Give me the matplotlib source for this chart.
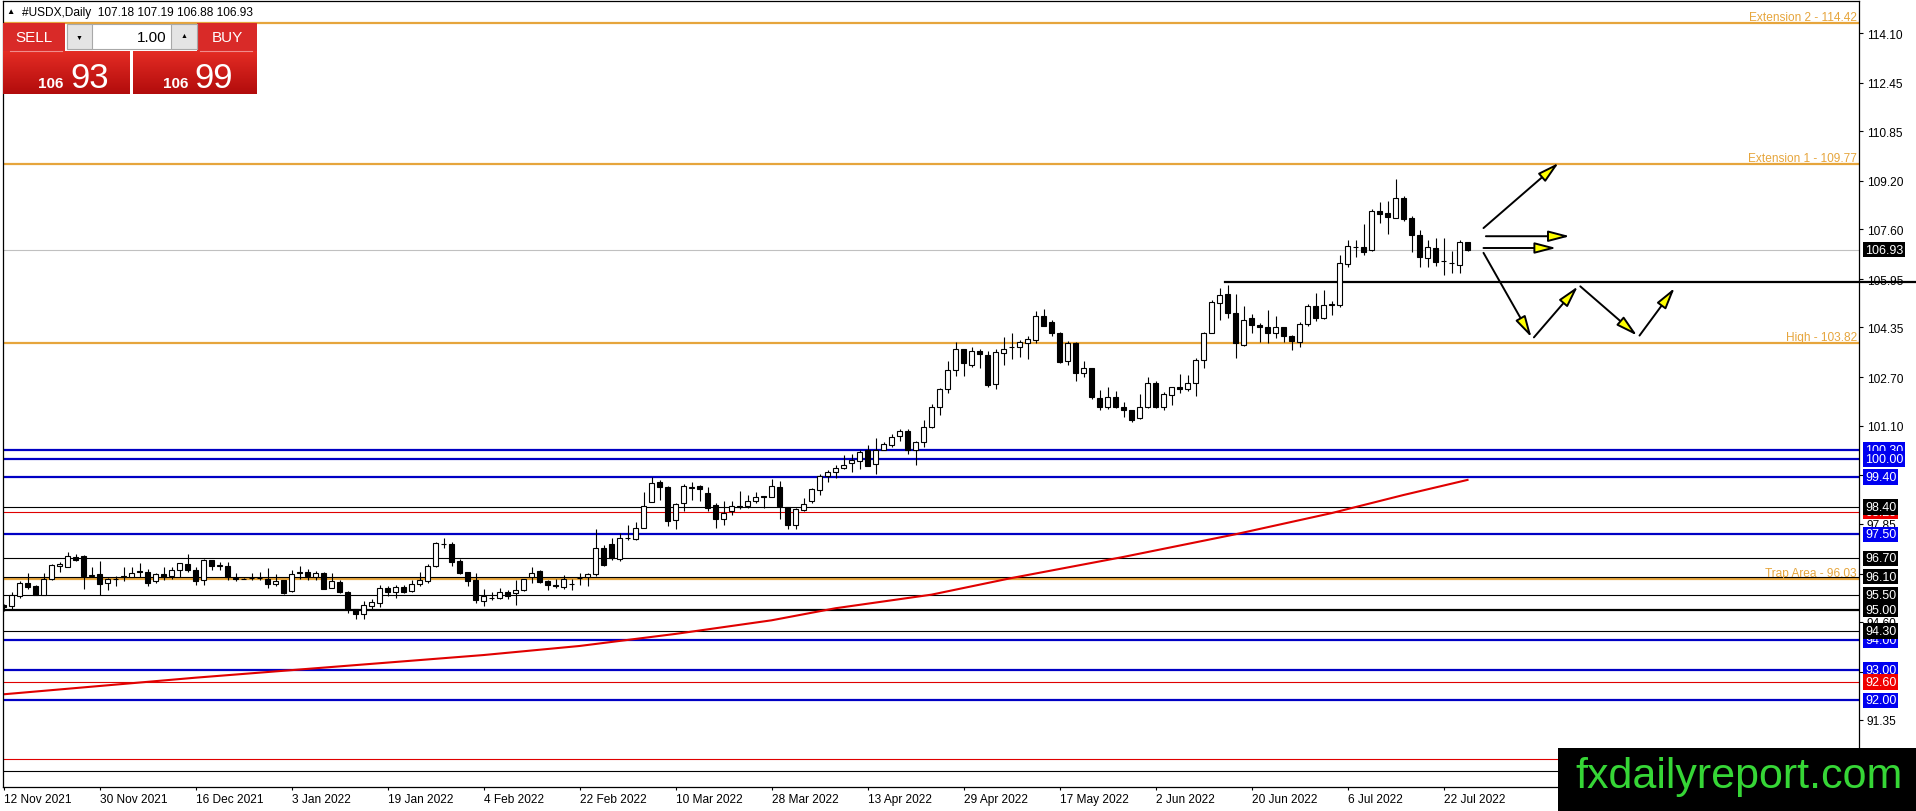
import matplotlib
matplotlib.use('Agg')
import matplotlib.pyplot as plt
import matplotlib.colors as mcolors
from matplotlib.patches import Rectangle
import numpy as np

plt.rcParams['font.family'] = ['Liberation Sans', 'DejaVu Sans']

# daily USDX candles, 12 Nov 2021 .. 27 Jul 2022
opens = [95.15, 95.12, 95.45, 95.90, 95.79, 95.50, 96.01, 96.45, 96.43, 96.75,
         96.78, 96.12, 96.19, 95.88, 96.02, 96.10, 96.10, 96.27, 96.26, 95.96,
         96.18, 96.12, 96.32, 96.50, 96.30, 95.97, 96.65, 96.45, 96.45, 96.05,
         96.03, 96.04, 96.05, 96.02, 95.86, 95.97, 95.61, 96.22, 96.24, 96.10,
         96.21, 95.72, 95.91, 95.60, 95.01, 94.85, 95.12, 95.23, 95.72, 95.59,
         95.75, 95.61, 95.86, 95.96, 96.45, 97.18, 97.19, 96.61, 96.24, 95.99,
         95.28, 95.40, 95.39, 95.60, 95.55, 95.64, 96.10, 96.27, 95.95, 95.81,
         95.75, 95.85, 96.05, 96.08, 96.18, 97.03, 97.18, 96.68, 97.38, 97.35,
         97.71, 98.56, 99.23, 99.08, 97.96, 98.53, 99.03, 99.11, 98.86, 98.48,
         97.99, 98.26, 98.45, 98.42, 98.59, 98.76, 98.75, 99.08, 98.39, 97.82,
         98.31, 98.61, 98.97, 99.43, 99.57, 99.70, 99.87, 99.92, 100.28, 99.82,
         100.30, 100.46, 100.77, 100.93, 100.28, 100.56, 101.05, 101.71, 102.30, 102.94,
         103.62, 103.11, 103.57, 103.44, 102.47, 103.51, 103.69, 103.69, 103.84, 103.93,
         104.72, 104.54, 104.17, 103.25, 103.85, 102.83, 102.99, 102.00, 101.73, 102.06,
         101.71, 101.60, 101.34, 101.73, 102.50, 101.73, 102.11, 102.37, 102.30, 102.50,
         103.27, 104.15, 105.15, 105.46, 104.82, 103.76, 104.65, 104.43, 104.37, 104.15,
         104.37, 104.06, 103.87, 104.46, 105.06, 104.65, 105.10, 105.10, 106.45, 107.00,
         107.02, 106.90, 108.19, 108.13, 107.99, 108.62, 107.99, 107.41, 106.65, 106.99,
         106.55, 106.49, 106.43, 107.18]
highs = [95.20, 95.59, 95.94, 96.21, 95.83, 96.21, 96.50, 96.59, 96.90, 96.84,
         96.80, 96.43, 96.61, 96.05, 96.13, 96.43, 96.43, 96.54, 96.34, 96.23,
         96.43, 96.43, 96.56, 96.86, 96.43, 96.67, 96.66, 96.59, 96.57, 96.23,
         96.05, 96.21, 96.24, 96.39, 96.19, 95.99, 96.32, 96.45, 96.34, 96.27,
         96.26, 96.21, 95.99, 95.62, 95.02, 95.28, 95.34, 95.83, 95.77, 95.83,
         95.81, 95.99, 96.26, 96.50, 97.26, 97.39, 97.26, 96.67, 96.26, 96.21,
         95.69, 95.59, 95.72, 95.66, 95.99, 96.03, 96.41, 96.30, 95.99, 96.02,
         96.15, 96.02, 96.21, 96.23, 97.68, 97.16, 97.37, 97.55, 97.82, 97.90,
         98.91, 99.38, 99.29, 99.10, 98.55, 99.15, 99.24, 99.13, 99.05, 98.53,
         98.59, 98.61, 98.93, 98.80, 98.91, 98.77, 99.32, 99.27, 98.40, 98.37,
         98.69, 99.04, 99.49, 99.62, 99.78, 100.14, 100.17, 100.28, 100.46, 100.69,
         100.55, 100.82, 100.98, 100.98, 100.60, 101.28, 101.82, 102.33, 103.25, 103.87,
         103.65, 103.69, 103.62, 103.57, 103.65, 104.02, 104.17, 103.93, 104.06, 104.89,
         104.95, 104.61, 104.21, 103.91, 103.87, 103.25, 103.00, 102.28, 102.39, 102.23,
         101.89, 101.62, 102.15, 102.70, 102.59, 102.20, 102.39, 102.81, 102.78, 103.33,
         104.21, 105.26, 105.65, 105.76, 105.46, 105.06, 104.79, 104.49, 104.93, 104.74,
         104.38, 104.10, 104.52, 105.12, 105.49, 105.60, 105.21, 106.76, 107.23, 107.23,
         107.76, 108.26, 108.52, 108.54, 109.26, 108.71, 108.04, 107.57, 107.23, 107.30,
         107.32, 106.88, 107.26, 107.19]
lows = [94.95, 94.98, 95.39, 95.69, 95.48, 95.48, 95.99, 96.26, 96.41, 96.61,
        95.69, 96.10, 95.50, 95.64, 95.77, 95.94, 96.08, 96.10, 95.79, 95.90,
        95.97, 96.01, 96.10, 96.26, 95.82, 95.83, 96.32, 96.32, 95.97, 95.94,
        96.01, 96.00, 95.98, 95.72, 95.79, 95.53, 95.58, 96.01, 95.99, 95.99,
        95.69, 95.72, 95.55, 94.90, 94.70, 94.70, 95.03, 95.10, 95.45, 95.39,
        95.55, 95.58, 95.79, 95.90, 96.43, 97.03, 96.46, 96.19, 95.77, 95.23,
        95.12, 95.32, 95.36, 95.34, 95.16, 95.61, 95.88, 95.90, 95.64, 95.72,
        95.69, 95.64, 95.81, 95.80, 96.12, 96.46, 96.64, 96.62, 97.30, 97.31,
        97.71, 98.56, 98.64, 97.79, 97.66, 98.26, 98.64, 98.59, 98.26, 97.71,
        97.82, 98.13, 98.33, 98.37, 98.53, 98.37, 98.73, 98.01, 97.68, 97.68,
        98.26, 98.53, 98.80, 99.24, 99.35, 99.65, 99.57, 99.65, 99.75, 99.51,
        100.28, 100.38, 100.60, 100.17, 99.78, 100.40, 101.01, 101.45, 102.17, 102.74,
        102.74, 103.05, 102.99, 102.39, 102.30, 103.10, 103.32, 103.38, 103.30, 103.82,
        104.39, 104.06, 103.18, 103.10, 102.59, 102.70, 101.97, 101.60, 101.65, 101.67,
        101.38, 101.23, 101.31, 101.69, 101.69, 101.60, 101.78, 102.17, 102.25, 102.08,
        102.99, 104.15, 104.60, 104.65, 103.35, 103.73, 104.17, 103.87, 103.84, 104.01,
        103.87, 103.60, 103.71, 104.41, 104.57, 104.62, 104.76, 105.02, 106.35, 106.69,
        106.76, 106.87, 107.82, 107.45, 107.99, 107.87, 106.85, 106.35, 106.35, 106.37,
        106.10, 106.15, 106.15, 106.88]
closes = [95.08, 95.48, 95.88, 95.74, 95.50, 96.02, 96.48, 96.50, 96.78, 96.65,
          96.12, 96.15, 95.86, 96.01, 96.03, 96.12, 96.23, 96.25, 95.90, 96.18,
          96.10, 96.32, 96.54, 96.30, 95.94, 96.65, 96.45, 96.47, 96.10, 96.03,
          96.03, 96.05, 96.04, 95.86, 95.96, 95.55, 96.18, 96.24, 96.13, 96.21,
          95.70, 95.94, 95.58, 95.01, 94.85, 95.15, 95.25, 95.72, 95.58, 95.75,
          95.60, 95.86, 95.99, 96.45, 97.21, 97.17, 96.59, 96.21, 95.94, 95.32,
          95.47, 95.39, 95.58, 95.47, 95.66, 96.01, 96.23, 95.93, 95.81, 95.80,
          96.01, 95.86, 96.06, 96.18, 97.06, 96.48, 96.70, 97.39, 97.36, 97.71,
          98.45, 99.21, 99.08, 97.93, 98.50, 99.10, 99.05, 98.99, 98.37, 98.01,
          98.20, 98.44, 98.40, 98.59, 98.75, 98.75, 99.11, 98.42, 97.82, 98.33,
          98.51, 98.99, 99.43, 99.57, 99.70, 99.78, 99.95, 100.24, 99.76, 100.28,
          100.49, 100.73, 100.93, 100.28, 100.55, 101.06, 101.71, 102.30, 102.94, 103.62,
          103.16, 103.57, 103.46, 102.45, 103.52, 103.62, 103.70, 103.87, 103.95, 104.72,
          104.41, 104.17, 103.21, 103.85, 102.83, 102.99, 102.04, 101.71, 102.06, 101.71,
          101.60, 101.29, 101.73, 102.50, 101.71, 102.14, 102.37, 102.30, 102.50, 103.27,
          104.15, 105.19, 105.43, 104.82, 103.84, 104.60, 104.43, 104.37, 104.15, 104.35,
          104.07, 103.91, 104.46, 105.06, 104.65, 105.10, 105.13, 106.49, 107.04, 107.02,
          106.84, 108.19, 108.12, 108.01, 108.62, 107.93, 107.41, 106.69, 107.02, 106.52,
          106.54, 106.48, 107.19, 106.93]

date_labels = ['12 Nov 2021', '30 Nov 2021', '16 Dec 2021', '3 Jan 2022', '19 Jan 2022',
               '4 Feb 2022', '22 Feb 2022', '10 Mar 2022', '28 Mar 2022', '13 Apr 2022',
               '29 Apr 2022', '17 May 2022', '2 Jun 2022', '20 Jun 2022', '6 Jul 2022',
               '22 Jul 2022']
date_step = 12

# moving average (red), bar index / value
ma_idx = [0, 24, 36, 48, 60, 72, 84, 96, 104, 116, 126, 140, 154, 166, 175, 183]
ma_val = [92.2, 92.75, 93.0, 93.25, 93.5, 93.8, 94.2, 94.65, 95.05, 95.5, 96.05,
          96.75, 97.5, 98.2, 98.8, 99.3]

y_ticks = [114.10, 112.45, 110.85, 109.20, 107.60, 105.95, 104.35, 102.70, 101.10,
           99.45, 97.85, 96.20, 94.60, 92.95, 91.35]

fib_levels = [114.42, 109.77, 103.82, 96.03]
fib_names = ['Extension 2', 'Extension 1', 'High', 'Trap Area']
blue_levels = [100.30, 100.00, 99.40, 97.50, 94.00, 93.00, 92.00]
black_levels = [98.40, 96.70, 96.10, 95.50, 94.30, 89.65]
black_thick = [95.00]
red_levels = [98.25, 92.60, 90.05]
last_price = 106.93
resist_start = 152.7
resist_level = 105.87

# boxes on the price scale, in drawing order
box_vals = [100.30, 100.00, 99.40, 98.25, 98.40, 97.50, 96.70, 96.10, 95.50,
            95.00, 94.00, 94.30, 93.00, 92.60, 92.00, 106.93]
box_kind = ['b', 'b', 'b', 'r', 'k', 'b', 'k', 'k', 'k',
            'k', 'b', 'k', 'b', 'r', 'b', 'k']

# scenario arrows (bar index, price)
arrows = [((185.0, 107.64), (194.4, 109.80)),
          ((185.3, 107.37), (195.8, 107.37)),
          ((185.0, 106.98), (194.1, 106.98)),
          ((185.0, 106.82), (191.0, 104.02)),
          ((191.3, 104.02), (196.8, 105.71)),
          ((197.1, 105.71), (204.2, 104.08)),
          ((204.5, 104.08), (208.9, 105.66))]

ORANGE = '#e6a53c'
BLUE_LINE = '#0000c4'
BOX_COL = {'b': '#0000f0', 'k': '#000000', 'r': '#f00000'}
FS = 8.6

W, H = 1916, 812
fig = plt.figure(figsize=(W / 100, H / 100), dpi=100)
ax = fig.add_axes([3 / W, (H - 788) / H, (1859 - 3) / W, (788 - 2) / H])
ax.set_xlim((3 - 3.5) / 8, (1859 - 3.5) / 8)
ax.set_ylim(89.13, 115.16)

# horizontal levels
for lv in fib_levels:
    ax.axhline(lv, color=ORANGE, lw=1.6, zorder=2)
for lv in blue_levels:
    ax.axhline(lv, color=BLUE_LINE, lw=1.6, zorder=2)
for lv in black_levels:
    ax.axhline(lv, color='black', lw=0.8, zorder=2)
for lv in black_thick:
    ax.axhline(lv, color='black', lw=1.6, zorder=2)
for lv in red_levels:
    ax.axhline(lv, color='#e00000', lw=0.8, zorder=2)
ax.axhline(last_price, color='#c0c0c0', lw=0.8, zorder=2)
ax.plot([resist_start, 240], [resist_level, resist_level], color='black', lw=1.6,
        clip_on=False, zorder=2)

ax.plot(ma_idx, ma_val, color='#e00000', lw=1.5, zorder=2.2)

# candles
o = np.array(opens)
h = np.array(highs)
l = np.array(lows)
c = np.array(closes)
x = np.arange(len(o))
up = c >= o
ax.vlines(x, l, h, color='black', lw=0.8, zorder=3)
lo = np.minimum(o, c)
hh = np.abs(c - o)
ax.bar(x[up], hh[up], bottom=lo[up], width=0.6, facecolor='white',
       edgecolor='black', lw=0.8, zorder=4)
ax.bar(x[~up], hh[~up], bottom=lo[~up], width=0.6, facecolor='black',
       edgecolor='black', lw=0.8, zorder=4)

# level names
for lv, name in zip(fib_levels, fib_names):
    ax.annotate(f'{name} - {lv:.2f}', xy=(1, lv), xycoords=ax.get_yaxis_transform(),
                xytext=(-1.5, 2.2), textcoords='offset points', ha='right',
                va='baseline', color=ORANGE, fontsize=FS, zorder=5)

# arrows
for (p0, p1) in arrows:
    ax.annotate('', xy=p1, xytext=p0,
                arrowprops=dict(arrowstyle='-|>,head_length=1.0,head_width=0.26',
                                mutation_scale=13, fc='#ffff00', ec='black', lw=1.4,
                                shrinkA=0, shrinkB=0), zorder=6)

# axes styling
for sp in ax.spines.values():
    sp.set_color('black')
    sp.set_linewidth(0.9)
ax.yaxis.tick_right()
ax.set_yticks(y_ticks)
ax.set_yticklabels([f'{v:.2f}' for v in y_ticks])
ax.set_xticks(range(0, len(date_labels) * date_step, date_step))
ax.set_xticklabels(date_labels)
plt.setp(ax.get_xticklabels(), ha='left')
ax.tick_params(axis='y', direction='out', length=3, pad=2.5, labelsize=FS, colors='black')
ax.tick_params(axis='x', direction='out', length=2.5, pad=1.5, labelsize=FS, colors='black')

# boxes on the price scale
for i, (v, k) in enumerate(zip(box_vals, box_kind)):
    ax.annotate(f'{v:.2f}', xy=(1, v), xycoords=ax.get_yaxis_transform(),
                xytext=(4.3, 0), textcoords='offset points', ha='left', va='center',
                color='white', fontsize=9, annotation_clip=False, zorder=7 + i * 0.01,
                bbox=dict(boxstyle='square,pad=0.14', fc=BOX_COL[k], ec='none'))

# overlay in pixel coordinates: header, trade panel, watermark
ov = fig.add_axes([0, 0, 1, 1], zorder=10)
ov.patch.set_alpha(0)

ov.text(6, 13, '\u25b2', fontsize=6, va='center', ha='left', color='black')
ov.text(22, 13, '#USDX,Daily  107.18 107.19 106.88 106.93', fontsize=FS,
        va='center', ha='left', color='black')

BTN = '#d92a28'
ov.add_patch(Rectangle((3, 24), 62, 28, fc=BTN, ec='none'))
ov.add_patch(Rectangle((197, 24), 60, 28, fc=BTN, ec='none'))
ov.plot([10, 62], [51.5, 51.5], color='#f08c8c', lw=0.8)
ov.plot([200, 252], [51.5, 51.5], color='#f08c8c', lw=0.8)
ov.add_patch(Rectangle((67, 25), 130, 25, fc='white', ec='#a8a8a8', lw=0.8))
ov.add_patch(Rectangle((67, 25), 25, 25, fc='#e4e4e4', ec='#a8a8a8', lw=0.8))
ov.add_patch(Rectangle((171, 25), 26, 25, fc='#e4e4e4', ec='#a8a8a8', lw=0.8))
ov.text(79.5, 38, '\u25bc', fontsize=5, ha='center', va='center', color='black')
ov.text(184, 37, '\u25b2', fontsize=5, ha='center', va='center', color='black')
ov.text(167, 37.5, '1.00', fontsize=11, ha='right', va='center', color='black')
ov.text(34, 38, 'SELL', fontsize=11, ha='center', va='center', color='white')
ov.text(227, 38, 'BUY', fontsize=11, ha='center', va='center', color='white')

top = np.array(mcolors.to_rgb('#e42c24'))
bot = np.array(mcolors.to_rgb('#b20c0c'))
grad = np.linspace(0, 1, 40)[:, None, None]
img = top + (bot - top) * grad
ov.imshow(img, extent=(3, 130, 95, 52), aspect='auto', interpolation='bilinear')
ov.imshow(img, extent=(133, 257, 95, 52), aspect='auto', interpolation='bilinear')
ov.text(38, 88, '106', fontsize=11, fontweight='bold', ha='left', va='baseline', color='white')
ov.text(70, 88, '93', fontsize=25, ha='left', va='baseline', color='white')
ov.text(163, 88, '106', fontsize=11, fontweight='bold', ha='left', va='baseline', color='white')
ov.text(194, 88, '99', fontsize=25, ha='left', va='baseline', color='white')

ov.add_patch(Rectangle((1558, 749), 358, 63, fc='black', ec='none'))
ov.text(1575, 788, 'fxdailyreport.com', fontsize=31, ha='left', va='baseline',
        color='#36d636')

ov.set_xlim(0, W)
ov.set_ylim(H, 0)
ov.axis('off')

fig.savefig('out.png', dpi=100)
